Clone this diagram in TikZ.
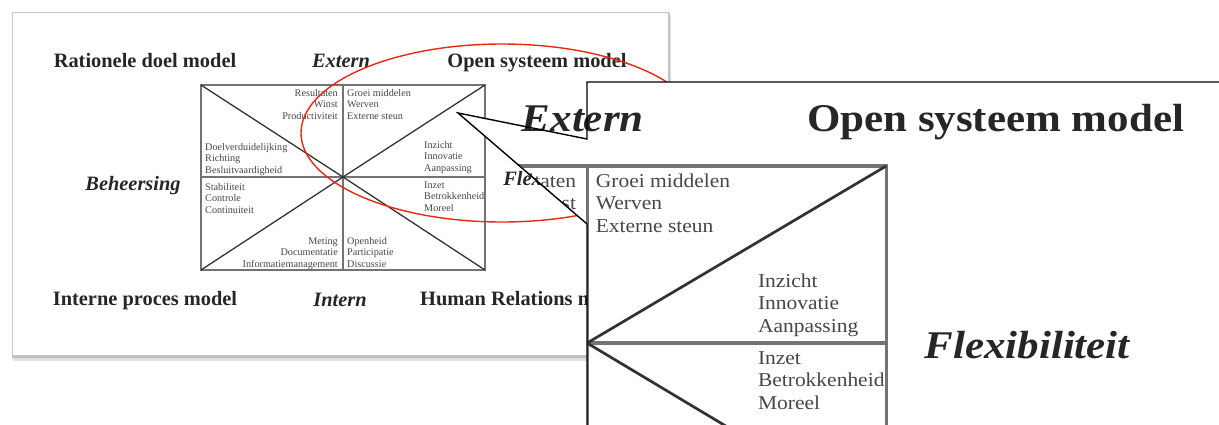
\documentclass[tikz,border=0pt]{standalone}
\usepackage{fontspec}
\setmainfont{Liberation Serif}
\definecolor{ellred}{RGB}{232,40,18}
\def\lf{1}
\newcommand\pagecontent{%
  \coordinate (TL) at (201,85);
  \coordinate (TR) at (485,85);
  \coordinate (BL) at (201,270);
  \coordinate (BR) at (485,270);
  \coordinate (TC) at (343,85);
  \coordinate (BC) at (343,270);
  \coordinate (ML) at (201,177);
  \coordinate (MR) at (485,177);
  \coordinate (C) at (343,177);
  \draw[boxln] (TL) rectangle (BR);
  \draw[boxln] (TC) -- (BC);
  \draw[boxln] (ML) -- (MR);
  \draw[diagln] (TL) -- (C) -- (BL);
  \draw[diagln] (TR) -- (C) -- (BR);
  \node[qright] (q1) at (338,119.4) {Resultaten\\Winst\\Productiviteit};
  \node[qleft] (q2) at (205,173.4) {Doelverduidelijking\\Richting\\Besluitvaardigheid};
  \node[qleft] (q3) at (205,213.4) {Stabiliteit\\Controle\\Continuiteit};
  \node[qright] (q4) at (338,267.4) {Meting\\Documentatie\\Informatiemanagement};
  \node[qleft] (q5) at (347,119.4) {Groei middelen\\Werven\\Externe steun};
  \node[qleft] (q6) at (424,171.4) {Inzicht\\Innovatie\\Aanpassing};
  \node[qleft] (q7) at (424,211.4) {Inzet\\Betrokkenheid\\Moreel};
  \node[qleft] (q8) at (347,267.4) {Openheid\\Participatie\\Discussie};
  \node[bigb] (rdm) at (145,67) {Rationele doel model};
  \node[bigi] (ext) at (341,67) {Extern};
  \node[bigb] (osm) at (537,67) {Open systeem model};
  \node[bigi] (beh) at (133,190) {Beheersing};
  \node[bigi] (flex) at (552,185) {Flexibiliteit};
  \node[bigb] (ipm) at (145,305) {Interne proces model};
  \node[bigi] (int) at (340,306) {Intern};
  \node[bigb, anchor=base west] (hrm) at (420,305) {Human Relations model};
}
\begin{document}
\begin{tikzpicture}[x=1pt,y=-1pt,
  boxln/.style={draw=black!55, line width=\lf*1.5pt},
  diagln/.style={draw=black!80, line width=\lf*1.3pt},
  qtext/.style={inner sep=0pt, font=\fontsize{10.2}{11.7}\selectfont, text=black!72},
  qleft/.style={qtext, align=left, anchor=base west},
  qright/.style={qtext, align=right, anchor=base east},
  bigb/.style={inner sep=0pt, font=\fontsize{20.4}{24}\selectfont\bfseries, anchor=base, text=black!85},
  bigi/.style={inner sep=0pt, font=\fontsize{20.4}{24}\selectfont\bfseries\itshape, anchor=base, text=black!85},
  callout/.style={draw=black, line width=1.4pt, line join=miter},
]
\useasboundingbox (0,0) rectangle (1219,424);
\fill[white] (0,0) rectangle (1219,424);
% page with shadow
\fill[black!12] (13,15) rectangle (671,361);
\fill[black!25] (12,13) rectangle (670,358);
\fill[black!40] (12,12) rectangle (669,356);
\filldraw[fill=white, draw=black!22, line width=0.8pt] (12,12) rectangle (668,355);
\pagecontent
% red ellipse
\draw[ellred, line width=1.4pt] (502,133) ellipse [x radius=201, y radius=89];
% magnified callout
\begin{scope}
  \clip (522,82) -- (1230,82) -- (1230,430) -- (587,430) -- (587,224) -- (458,113) -- (522,125.9) -- cycle;
  \fill[white] (0,0) rectangle (1230,430);
  \begin{scope}[shift={(587,343)}, xscale=2.106, yscale=1.924, shift={(-343,-177)}, transform shape, name prefix=m-]
    \def\lf{2.1}
    \pagecontent
  \end{scope}
\end{scope}
\coordinate (cTR) at (1230,82);
\coordinate (cTL) at (587,82);
\coordinate (cP1) at (587,139);
\coordinate (tip) at (458,113);
\coordinate (cP2) at (587,224);
\coordinate (cBL) at (587,430);
\draw[callout] (cTR) -- (cTL) -- (cP1) -- (tip) -- (cP2) -- (cBL);
\end{tikzpicture}
\end{document}
